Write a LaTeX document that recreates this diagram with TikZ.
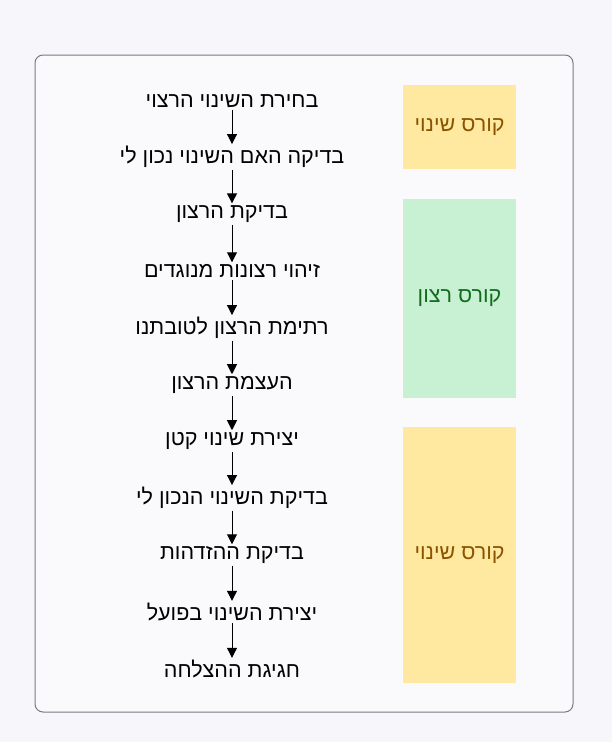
\documentclass[tikz,border=0pt]{standalone}
\usepackage{fontspec}
\newfontfamily\hebfont[Script=Hebrew]{Liberation Sans}
\TeXXeTstate=1
\usetikzlibrary{arrows.meta,shapes}
\definecolor{pagebg}{HTML}{F7F7FB}
\definecolor{framegray}{HTML}{7A7A7F}
\definecolor{changefill}{HTML}{FFE8A0}
\definecolor{changetext}{HTML}{8A5300}
\definecolor{willfill}{HTML}{C8F0D2}
\definecolor{willtext}{HTML}{136B1E}
\tikzstyle{stage}=[font=\hebfont\fontsize{21.5}{24}\selectfont,inner sep=2pt]
\tikzstyle{arrow}=[draw,-{Triangle[width=10pt,length=10pt]},line width=1pt]
\tikzstyle{course}=[font=\hebfont\fontsize{21.5}{24}\selectfont,minimum width=113pt,inner sep=0pt]
\tikzstyle{change course}=[course,fill=changefill,text=changetext]
\tikzstyle{will course}=[course,fill=willfill,text=willtext]

\begin{document}
\begin{tikzpicture}[x=1pt,y=-1pt]
    \useasboundingbox[fill=pagebg] (0,0) rectangle (612,742);
    \draw[framegray,line width=1pt,rounded corners=8pt,fill=pagebg!60!white] (35,55) rectangle (573,712);
    \foreach \pos/\name/\txt in {{(232,101)/1/בחירת השינוי הרצוי}, {(232,157)/2/בדיקה האם השינוי נכון לי},
        {(232,214)/3/בדיקת הרצון}, {(232,271)/4/זיהוי רצונות מנוגדים}, {(232,328)/5/רתימת הרצון לטובתנו},
        {(232,385)/6/העצמת הרצון}, {(232,441)/7/יצירת שינוי קטן}, {(232,498)/8/בדיקת השינוי הנכון לי},
        {(232,555)/9/בדיקת ההזדהות}, {(232,612)/10/יצירת השינוי בפועל}, {(232,669)/11/חגיגת ההצלחה}}
        \node[stage] (\name) at \pos {\beginR\txt\endR};
    \foreach \source/\dest in {1/2,2/3,3/4,4/5,5/6,6/7,7/8,8/9,9/10,10/11}
        \path[arrow] (\source) -- (\dest);
    \node[change course,minimum height=84pt] (course1) at (459.5,127) {\beginR קורס שינוי\endR};
    \node[will course,minimum height=199pt] (course2) at (459.5,298.5) {\beginR קורס רצון\endR};
    \node[change course,minimum height=256pt] (course3) at (459.5,555) {\beginR קורס שינוי\endR};
\end{tikzpicture}
\end{document}
